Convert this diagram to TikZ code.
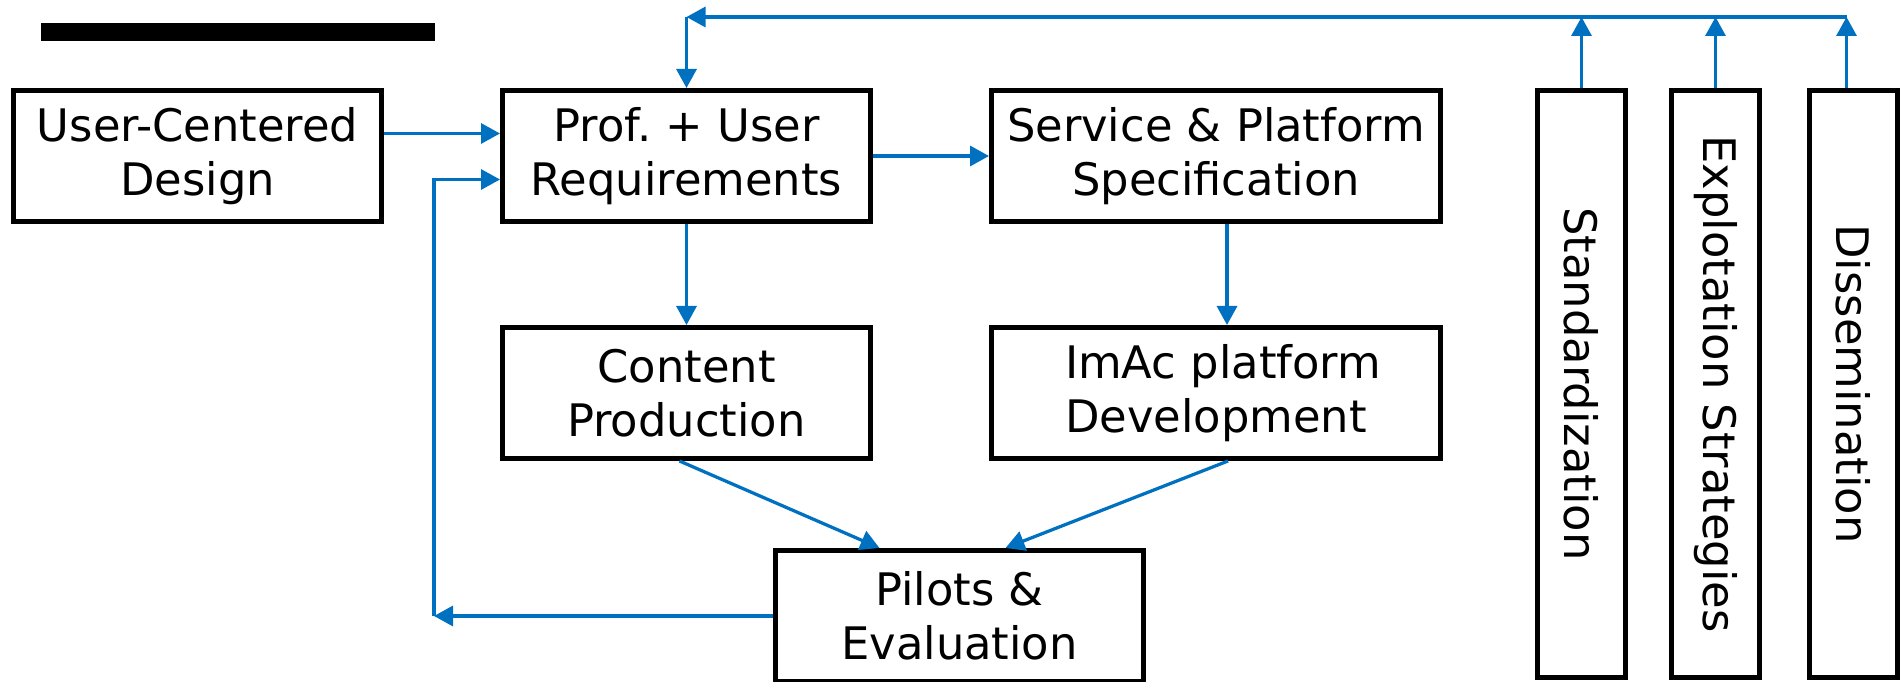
\documentclass[tikz,border=0pt]{standalone}
\usepackage{fontspec}
\setmainfont{DejaVu Sans}
\usetikzlibrary{arrows.meta,positioning}
\definecolor{flowblue}{HTML}{0070C0}
\frenchspacing

\begin{document}
\begin{tikzpicture}[
  node distance=2.32cm,
  box/.style={draw, line width=1mm, align=center, minimum height=2.62cm, minimum width=7.36cm, font=\fontsize{25.5}{31}\selectfont},
  widebox/.style={box, minimum width=8.98cm},
  pillar/.style={draw, line width=1mm, minimum width=1.76cm, minimum height=11.74cm, font=\fontsize{25.5}{31}\selectfont},
  arr/.style={-{Triangle[length=3.8mm,width=4mm]}, line width=0.65mm, flowblue}
]
\useasboundingbox (0,0) rectangle (38.02,13.62);
\node[fill=black, inner sep=0pt, minimum width=7.88cm, minimum height=0.36cm, anchor=north west] (bar) at (0.82,13.16) {};
\node[box] (ucd) at (3.95,10.5) {User-Centered\\Design};
\node[box, right=of ucd] (req) {Prof. + User\\Requirements};
\node[widebox, right=of req] (spec) {Service \& Platform\\Specification};
\node[box, below=2.02cm of req] (content) {Content\\Production};
\node[widebox, below=2.02cm of spec] (imac) {~ImAc platform\\Development};
\node[box, below=1.74cm of content, xshift=5.46cm] (pilots) {Pilots \&\\Evaluation};
\node[pillar, right=1.84cm of spec.north east, anchor=north west] (std) {\rotatebox{-90}{Standardization}};
\node[pillar, right=0.82cm of std] (expl) {\rotatebox{-90}{Explotation Strategies}};
\node[pillar, right=0.9cm of expl] (diss) {\rotatebox{-90}{Dissemination}};
\coordinate (busL) at ([yshift=1.42cm]req.north);
\coordinate (dtop) at ([xshift=-1.4mm]diss.north);
\coordinate (busR) at (dtop |- busL);
\coordinate (fbL) at ([xshift=-6.78cm]pilots.west);
\draw[arr] ([yshift=4.5mm]ucd.east) -- ([yshift=4.5mm]req.west);
\draw[arr] (req) -- (spec);
\draw[arr] (req) -- (content);
\draw[arr] ([xshift=2.2mm]spec.south) -- ([xshift=2.2mm]imac.north);
\draw[arr] ([xshift=-1.4mm]content.south) -- ([xshift=-1.6cm]pilots.north);
\draw[arr] ([xshift=2.4mm]imac.south) -- ([xshift=0.92cm]pilots.north);
\draw[arr] (pilots.west) -- (fbL);
\draw[arr] (fbL) |- ([yshift=-4.7mm]req.west);
\draw[arr] (std) -- (std |- busL);
\draw[arr] (expl) -- (expl |- busL);
\draw[arr] (dtop) -- (busR);
\draw[arr] (busR) -- (busL);
\draw[arr] (busL) -- (req);
\end{tikzpicture}
\end{document}
